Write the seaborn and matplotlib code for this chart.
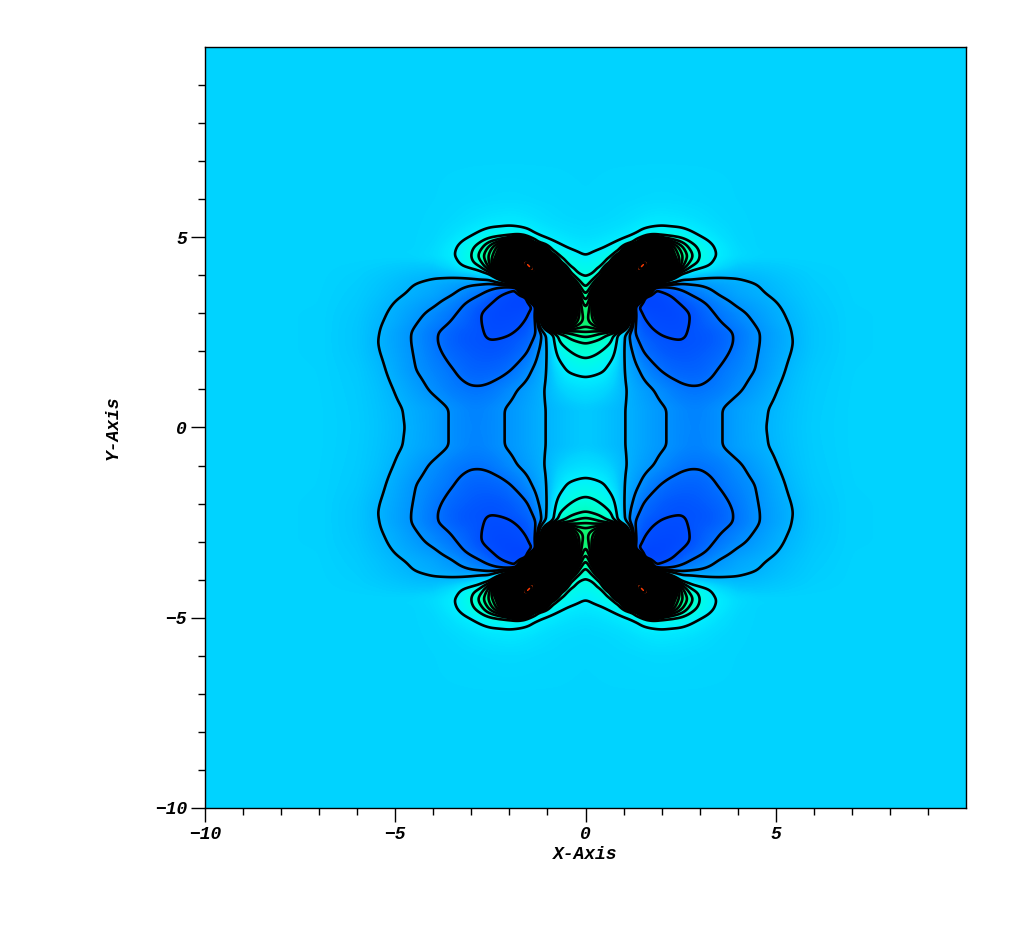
import numpy as np
import pandas as pd
import matplotlib
matplotlib.use("Agg")
import matplotlib.pyplot as plt
from matplotlib.colors import LinearSegmentedColormap
import seaborn as sns

# Field values for the upper-right quadrant
x_grid = [0, .25, .5, .75, 1, 1.25, 1.5, 1.75, 2, 2.25, 2.5, 2.75, 3, 3.25, 3.5, 4, 4.5, 5, 5.5, 6, 7, 10]
y_grid = [0, .5, 1, 1.5, 2, 2.25, 2.5, 2.75, 3, 3.25, 3.5, 3.75, 4, 4.25, 4.5, 4.75, 5, 5.25, 5.5, 6, 7, 10]

r_0_00 = [-.3, -.4, -.55, -.75, -.95, -1.2, -1.45, -1.7, -1.9, -2.1, -2.3, -2.4, -2.4, -2.3, -2.1, -1.6, -1.2, -.8, -.45, -.2, -.03, 0]
r_0_50 = [-.3, -.4, -.55, -.75, -.95, -1.2, -1.45, -1.7, -1.9, -2.1, -2.3, -2.45, -2.45, -2.3, -2.1, -1.6, -1.25, -.85, -.48, -.22, -.03, 0]
r_1_00 = [.4, .3, .1, -.3, -.85, -1.3, -1.65, -1.95, -2.25, -2.55, -2.8, -2.9, -2.9, -2.8, -2.65, -2.15, -1.6, -1.05, -.55, -.25, -.04, 0]
r_1_50 = [1.35, 1.25, 1.05, .3, -.95, -1.6, -2.2, -2.7, -3.05, -3.3, -3.4, -3.45, -3.4, -3.2, -2.95, -2.45, -1.95, -1.3, -.7, -.3, -.05, 0]
r_2_00 = [2.4, 2.2, 1.85, 1.35, -1, -2.1, -3, -3.4, -3.65, -3.8, -3.85, -3.8, -3.7, -3.55, -3.35, -2.75, -2.05, -1.45, -.9, -.4, -.06, 0]
r_2_25 = [3.1, 2.8, 2.4, 1.8, -.9, -2.5, -3.3, -3.6, -3.8, -3.9, -3.95, -3.9, -3.85, -3.7, -3.5, -2.85, -2.1, -1.5, -.95, -.42, -.06, 0]
r_2_50 = [5, 4.5, 3.5, 2.2, -.6, -2.9, -3.6, -3.9, -4.1, -4.2, -4.2, -3.9, -3.8, -3.7, -3.45, -2.85, -2.1, -1.5, -.9, -.42, -.06, 0]
r_2_75 = [6.5, 8, 12, 14, 8, -3.0, -3.8, -4.15, -4.3, -4.35, -4.3, -3.97, -3.7, -3.4, -3.1, -2.5, -1.9, -1.3, -.85, -.4, -.06, 0]
r_3_00 = [6, 9, 18, 24, 16, -2.8, -4.1, -4.4, -4.5, -4.5, -4.3, -4.0, -3.6, -3.2, -2.85, -2.25, -1.7, -1.2, -.75, -.36, -.06, 0]
r_3_25 = [4.5, 10, 22, 30, 24, -3.6, -4.6, -4.7, -4.6, -4.35, -4.0, -3.65, -3.3, -2.9, -2.5, -1.85, -1.45, -1.05, -.65, -.3, -.05, 0]
r_3_50 = [3, 8, 24, 34, 40, 22, -4.3, -4.5, -4.3, -3.95, -3.5, -3.0, -2.65, -2.3, -1.95, -1.45, -1.15, -.85, -.5, -.25, -.04, 0]
r_3_75 = [2.3, 4.5, 12, 30, 42, 45, 30, -3.5, -3.2, -2.75, -2.4, -2.2, -2.02, -1.8, -1.6, -1.25, -1.02, -.7, -.42, -.2, -.03, 0]
r_4_00 = [1.85, 2.1, 4.5, 30, 45, 55, 55, 40, 12, 4, .3, 0, -.45, -.7, -.8, -.85, -.72, -.5, -.3, -.15, -.02, 0]
r_4_25 = [1.5, 1.6, 2, 5, 40, 55, 60, 55, 35, 12, 5, 2.2, 1.6, 1.1, .4, -.3, -.35, -.25, -.15, -.08, -.01, 0]
r_4_50 = [1, 1.25, 1.5, 1.95, 4.5, 45, 55, 55, 22, 8, 5.5, 3.6, 1.95, 1.4, .9, .3, .05, 0, 0, 0, 0, 0]
r_4_75 = [.7, .8, .97, 1.25, 1.7, 2.6, 8, 30, 12, 7, 4.5, 2.6, 1.75, 1.25, .8, .2, 0, 0, 0, 0, 0, 0]
r_5_00 = [.4, .45, .55, .7, .9, 1.1, 1.4, 1.75, 1.9, 1.85, 1.7, 1.35, 1.05, .8, .5, .1, 0, 0, 0, 0, 0, 0]
r_5_25 = [.2, .25, .3, .4, .5, .7, .95, 1.05, 1.1, 1.05, 1.0, .85, .65, .45, .3, .05, 0, 0, 0, 0, 0, 0]
r_5_50 = [.1, .12, .15, .2, .28, .38, .5, .6, .65, .6, .55, .45, .35, .25, .15, .03, 0, 0, 0, 0, 0, 0]
r_6_00 = [.02, .03, .05, .08, .1, .12, .15, .17, .18, .17, .15, .12, .1, .07, .05, .01, 0, 0, 0, 0, 0, 0]
r_7_00 = [0] * 22
r_10_0 = [0] * 22

rows = [r_0_00, r_0_50, r_1_00, r_1_50, r_2_00, r_2_25, r_2_50, r_2_75, r_3_00, r_3_25, r_3_50,
        r_3_75, r_4_00, r_4_25, r_4_50, r_4_75, r_5_00, r_5_25, r_5_50, r_6_00, r_7_00, r_10_0]

neg_levels = [-4, -3, -2, -1]
pos_levels = list(range(1, 61))
x_major = [-10, -5, 0, 5]
x_major_labels = ["\u221210", "\u22125", "0", "5"]
x_minor = [v for v in range(-10, 10)]

color_values = [-5, -4, -3, -2, -1, 0, 1, 2, 4, 7, 20, 40, 60]
color_list = ["#0040FF", "#0050FF", "#0072FF", "#0094FF", "#00B4FF", "#00D4FF", "#00F0FF",
              "#00FFE0", "#00FF9A", "#10F06A", "#60F040", "#FFF000", "#FF2000"]

# Render grid: one cell per pixel of the plot area
N = 761
centres = (np.arange(N) + .5) / N * 20 - 10
table = np.array(rows, dtype=float)
by_x = np.array([np.interp(np.abs(centres), x_grid, r) for r in table])
field = np.array([np.interp(np.abs(centres), y_grid, by_x[:, j]) for j in range(N)]).T
kernel = np.ones(7) / 7
for _ in range(2):
    field = np.apply_along_axis(lambda a: np.convolve(np.pad(a, 3, mode="edge"), kernel, "valid"), 0, field)
    field = np.apply_along_axis(lambda a: np.convolve(np.pad(a, 3, mode="edge"), kernel, "valid"), 1, field)
frame = pd.DataFrame(field)

vmin, vmax = color_values[0], color_values[-1]
nodes = [(v - vmin) / (vmax - vmin) for v in color_values]
cmap = LinearSegmentedColormap.from_list("field", list(zip(nodes, color_list)), N=1024)

sns.set_theme(style="white")
font = ["Liberation Mono", "DejaVu Sans Mono"]
fig = plt.figure(figsize=(10.24, 9.52), dpi=100)
ax = fig.add_axes([205 / 1024, 1 - 808 / 952, 761 / 1024, 761 / 952])
sns.heatmap(frame, ax=ax, cmap=cmap, vmin=vmin, vmax=vmax, cbar=False,
            xticklabels=False, yticklabels=False, rasterized=True)
ax.set_ylim(0, N)
cell = np.arange(N) + .5
ax.contour(cell, cell, field, levels=neg_levels + pos_levels, colors="black",
           linewidths=1.9, linestyles="solid")

to_cell = lambda v: (v + 10) / 20 * N
ax.set_xticks([to_cell(v) for v in x_major])
ax.set_yticks([to_cell(v) for v in x_major])
ax.set_xticks([to_cell(v) for v in x_minor], minor=True)
ax.set_yticks([to_cell(v) for v in x_minor], minor=True)
ax.set_xticklabels(x_major_labels, rotation=0, family=font, weight="bold", style="italic", fontsize=13, color="black")
ax.set_yticklabels(x_major_labels, rotation=0, family=font, weight="bold", style="italic", fontsize=13, color="black")
ax.tick_params(which="major", direction="out", length=10, width=1, bottom=True, left=True, top=False, right=False, color="black", pad=3)
ax.tick_params(which="minor", direction="out", length=5, width=1, bottom=True, left=True, top=False, right=False, color="black")
for s in ax.spines.values():
    s.set_visible(True)
    s.set_color("black")
    s.set_linewidth(1)
ax.set_xlabel("X-Axis", family=font, weight="bold", style="italic", fontsize=13, color="black", labelpad=2)
ax.set_ylabel("Y-Axis", family=font, weight="bold", style="italic", fontsize=13, color="black", labelpad=24)
fig.savefig("out.png", dpi=100)
